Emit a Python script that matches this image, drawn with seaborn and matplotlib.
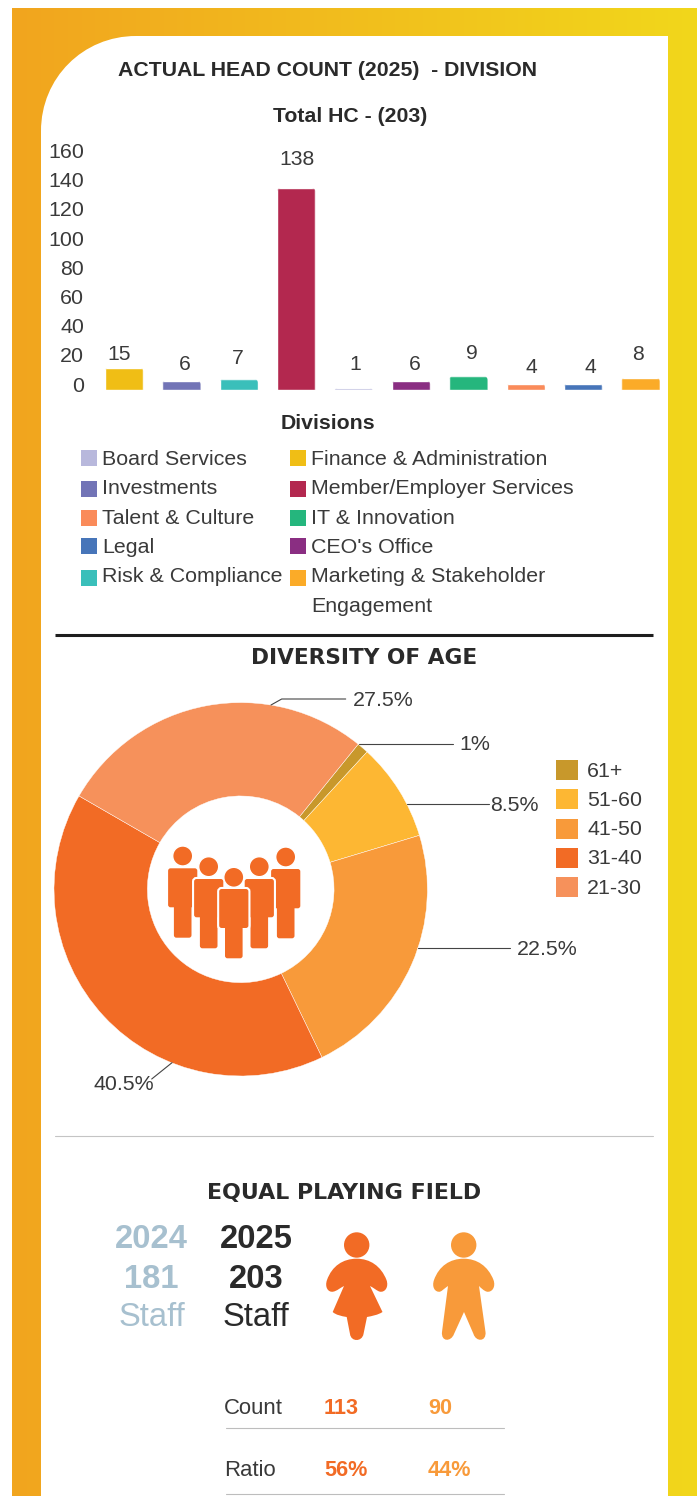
import numpy as np
import pandas as pd
import matplotlib
matplotlib.use("Agg")
import matplotlib.pyplot as plt
import seaborn as sns
from matplotlib.colors import LinearSegmentedColormap
from matplotlib.patches import Circle, FancyBboxPatch, PathPatch, Rectangle
from matplotlib.path import Path
from matplotlib.transforms import ScaledTranslation

# Head count by division, in the order the bars run
BAR_DIVISIONS = ["Finance & Administration", "Investments", "Risk & Compliance",
                 "Member/Employer Services", "Board Services", "CEO's Office",
                 "IT & Innovation", "Talent & Culture", "Legal",
                 "Marketing & Stakeholder Engagement"]
BAR_COUNTS = [15, 6, 7, 138, 1, 6, 9, 4, 4, 8]
BAR_COLORS = ["#F0BE15", "#7274B6", "#3ABFBA", "#B3284F", "#B8B8DC",
              "#8A2E82", "#25B67D", "#FA8B5A", "#4775B9", "#FBAB28"]
Y_TICKS = [0, 20, 40, 60, 80, 100, 120, 140, 160]

# Division legend, column by column
LEGEND_LEFT = ["Board Services", "Investments", "Talent & Culture", "Legal", "Risk & Compliance"]
LEGEND_RIGHT = ["Finance & Administration", "Member/Employer Services", "IT & Innovation",
                "CEO's Office", "Marketing & Stakeholder Engagement"]

# Age mix, clockwise from the 61+ slice
AGE_GROUPS = ["61+", "51-60", "41-50", "31-40", "21-30"]
AGE_SHARES = [1, 8.5, 22.5, 40.5, 27.5]
AGE_COLORS = ["#C8982B", "#FDB733", "#F89A3A", "#F26B25", "#F6915B"]

# Staffing summary
STAFF_YEARS = ["2024", "2025"]
STAFF_TOTALS = [181, 203]
TABLE_ROWS = ["Count", "Ratio"]
WOMEN_CELLS = ["113", "56%"]
MEN_CELLS = ["90", "44%"]

WIDTH, HEIGHT = 697, 1496
FONT = "Liberation Sans"
INK = "#2A2A2A"
BODY = "#3A3A3A"
ORANGE = "#F26B25"
LIGHT_ORANGE = "#F89A3A"
MUTED = "#A7C0CF"

sns.set_theme(style="white")
plt.rcParams["font.family"] = [FONT, "DejaVu Sans"]

fig = plt.figure(figsize=(WIDTH / 100, HEIGHT / 100), dpi=100, facecolor="white")


def axes_from_pixels(left, top, right, bottom, **kwargs):
    """Add axes placed by pixel edges measured from the top-left corner."""
    return fig.add_axes([left / WIDTH, 1 - bottom / HEIGHT,
                         (right - left) / WIDTH, (bottom - top) / HEIGHT], **kwargs)


# Backdrop: gradient frame with a white card cut into it
bg = axes_from_pixels(0, 0, WIDTH, HEIGHT, zorder=0)
bg.axis("off")
frame_cmap = LinearSegmentedColormap.from_list("frame", ["#F2A51F", "#F1D71B"])
bg.imshow(np.linspace(0, 1, 256)[None, :], extent=(12, WIDTH, HEIGHT, 8),
          cmap=frame_cmap, aspect="auto", zorder=0)
bg.set_xlim(0, WIDTH)
bg.set_ylim(HEIGHT, 0)
card = Path([(41, HEIGHT), (41, 131), (41, 78), (83, 36), (136, 36), (668, 36), (668, HEIGHT), (41, HEIGHT)],
            [Path.MOVETO, Path.LINETO, Path.CURVE4, Path.CURVE4, Path.CURVE4,
             Path.LINETO, Path.LINETO, Path.CLOSEPOLY])
bg.add_patch(PathPatch(card, facecolor="white", edgecolor="none", zorder=1))

# Bar chart of head count
PX_PER_UNIT = 1.46
ax = axes_from_pixels(95.3, 389.5 - 160 * PX_PER_UNIT, 669.3, 389.5, zorder=2)
ax.patch.set_visible(False)
frame = pd.DataFrame({"division": BAR_DIVISIONS, "head_count": BAR_COUNTS})
sns.barplot(data=frame, x="division", y="head_count", hue="division", order=BAR_DIVISIONS,
            hue_order=BAR_DIVISIONS, palette=BAR_COLORS, saturation=1, width=0.67,
            legend=False, ax=ax)
ax.set_ylim(0, 160)
ax.set_xlim(-0.5, len(BAR_DIVISIONS) - 0.5)
ax.set_xlabel("")
ax.set_ylabel("")
ax.set_xticks([])
ax.set_yticks(Y_TICKS)
ax.tick_params(axis="y", length=0, pad=8, labelsize=15.4, labelcolor=BODY)
sns.despine(ax=ax, left=True, bottom=True)
ax.grid(False)
tick_shift = ScaledTranslation(0, 5.5 / 100, fig.dpi_scale_trans)
for tick_label in ax.get_yticklabels():
    tick_label.set_transform(tick_label.get_transform() + tick_shift)

# Value labels sit at slightly uneven distances from their bars
label_nudges = [(-5, 13.6), (3.6, 16.7), (-1, 21), (1, 29), (1.4, 24),
                (4, 16.7), (3.6, 22.4), (5.2, 15.7), (6.8, 15.7), (-2.6, 23.8)]
x_px = 57.4
corner = 4.0
bars = [bar for container in ax.containers for bar in container if bar.get_height() > 0]
for bar, value, nudge in zip(bars, BAR_COUNTS, label_nudges):
    # Round only the top corners: the clip shape runs on below the baseline
    rounded = FancyBboxPatch((bar.get_x(), -10), bar.get_width(), bar.get_height() + 10,
                             boxstyle=f"round,pad=0,rounding_size={corner / x_px}",
                             mutation_aspect=x_px / PX_PER_UNIT, transform=ax.transData)
    bar.set_clip_path(rounded)
    ax.annotate(str(value), xy=(bar.get_x() + bar.get_width() / 2, bar.get_height()),
                xytext=nudge, textcoords="offset pixels", ha="center", va="center",
                fontsize=15.2, color=BODY, annotation_clip=False)

# Donut of the age mix
CX, CY, RADIUS = 240.7, 889.3, 186.7
donut = axes_from_pixels(CX - RADIUS, CY - RADIUS, CX + RADIUS, CY + RADIUS, zorder=2)
donut.pie(AGE_SHARES, colors=AGE_COLORS, startangle=90 - 39, counterclock=False, radius=1,
          wedgeprops={"width": 0.5, "edgecolor": "white", "linewidth": 0.3})
donut.set_xlim(-1, 1)
donut.set_ylim(-1, 1)

# Overlay in pixel coordinates for headings, legends, leaders and icons
px = axes_from_pixels(0, 0, WIDTH, HEIGHT, zorder=3)
px.set_xlim(0, WIDTH)
px.set_ylim(HEIGHT, 0)
px.axis("off")


def label(x, y, text, size=15.4, color=BODY, weight="normal", ha="left", **kwargs):
    return px.text(x, y + 1, text, fontsize=size, color=color, fontweight=weight,
                   ha=ha, va="center", **kwargs)


label(327.5, 69, "ACTUAL HEAD COUNT (2025)  - DIVISION", size=15.3, color=INK, weight="bold", ha="center")
label(350, 115, "Total HC - (203)", size=15.3, color=INK, weight="bold", ha="center")
label(327.5, 422, "Divisions", size=15.3, color=INK, weight="bold", ha="center")

# Division legend
color_of = dict(zip(BAR_DIVISIONS, BAR_COLORS))
text_rows = [458, 487.5, 517, 546, 575.5]
box_rows = [458, 489, 517.5, 546, 577.5]
for names, box_x, text_x in ((LEGEND_LEFT, 81, 102), (LEGEND_RIGHT, 290, 311)):
    for name, y, box_y in zip(names, text_rows, box_rows):
        px.add_patch(Rectangle((box_x, box_y - 8), 16, 16, facecolor=color_of[name], edgecolor="none"))
        if name.startswith("Marketing"):
            head, tail = "Marketing & Stakeholder", "Engagement"
            label(text_x, y, head)
            label(text_x, y + 29.5, tail)
        else:
            label(text_x, y, name)

px.plot([55, 653], [635, 635], color="#1E1E1E", lw=2.2, solid_capstyle="butt")
label(364.5, 657, "DIVERSITY OF AGE", size=15.6, color=INK, weight="bold", ha="center", family="DejaVu Sans")

# Leader lines and share labels around the donut
leaders = [
    ([271, 281.7, 345.7], [705, 699, 699], 353, 699.5),
    ([359.3, 453], [743.5, 743.5], 459, 743.5),
    ([406.7, 489], [804, 804], 490, 804.5),
    ([418, 510], [947.7, 947.7], 517, 948.5),
    ([172, 151.7], [1062.7, 1079], 94, 1083.5),
]
share_order = [4, 0, 1, 2, 3]
for (xs, ys, tx, ty), idx in zip(leaders, share_order):
    px.plot(xs, ys, color="#444444", lw=0.8)
    label(tx, ty, f"{AGE_SHARES[idx]:g}%")

# Age legend
for i, (group, color) in enumerate(zip(AGE_GROUPS, AGE_COLORS)):
    y = 770 + i * 29.25
    px.add_patch(Rectangle((556, y - 10), 22, 20, facecolor=color, edgecolor="none"))
    label(587, y, group)


def person(cx, top, waist, foot, head_y):
    """Draw one figure of the group icon with a white halo to separate overlaps."""
    parts = [
        ((cx - 14.6, top), 29.2, waist - top),
        ((cx - 8.8, waist - 5), 17.6, foot - waist + 5),
    ]
    for edge, lw in (("white", 3.0), (ORANGE, 0.0)):
        for xy, w, h in parts:
            px.add_patch(FancyBboxPatch(
                xy, w, h, boxstyle="round,pad=0,rounding_size=2.5",
                facecolor=ORANGE, edgecolor=edge, linewidth=lw))
    px.add_patch(Circle((cx, head_y), 10, facecolor=ORANGE, edgecolor="white", linewidth=1.0))


person(182.7, 868.3, 907.3, 937.7, 856)
person(285.7, 869, 908.3, 938.3, 857)
person(208.7, 879, 917.3, 948.3, 866.7)
person(259.3, 879, 917.3, 948.3, 866.7)
person(233.8, 889, 928, 958.3, 877.3)

# Thin divider and staffing section
px.plot([55, 653], [1135.5, 1135.5], color="#C4C4C4", lw=0.8)
label(344, 1192, "EQUAL PLAYING FIELD", size=15.9, color=INK, weight="bold", ha="center", family="DejaVu Sans")

for year, total, x, color in zip(STAFF_YEARS, STAFF_TOTALS, (151.5, 256), (MUTED, INK)):
    label(x, 1238, year, size=23.6, color=color, weight="bold", ha="center")
    label(x, 1278, str(total), size=23.6, color=color, weight="bold", ha="center")
    label(x, 1317, "Staff", size=23.6, color=color, ha="center")

# Female and male icons
C4, L2 = Path.CURVE4, Path.LINETO
woman = [
    (Path.MOVETO, [(356.7, 1258.7)]),
    (C4, [(370, 1258.7), (381, 1266), (386.5, 1280)]),
    (C4, [(389, 1287), (385, 1292.5), (380, 1291.7)]),
    (C4, [(377, 1291), (374, 1288), (370, 1286)]),
    (L2, [(382.5, 1312)]),
    (C4, [(378, 1315), (372, 1316), (367, 1317)]),
    (L2, [(363.5, 1334)]),
    (C4, [(362, 1342), (351, 1342), (350, 1334)]),
    (L2, [(346.7, 1317)]),
    (C4, [(341, 1316), (336, 1315), (332.7, 1312)]),
    (L2, [(344, 1286)]),
    (C4, [(340, 1288), (337, 1291), (333, 1291.7)]),
    (C4, [(328, 1292.5), (324.5, 1287), (327, 1280)]),
    (C4, [(332, 1266), (343, 1258.7), (356.7, 1258.7)]),
]
man = [
    (Path.MOVETO, [(463.7, 1258.7)]),
    (C4, [(477, 1258.7), (488, 1266), (493.5, 1280)]),
    (C4, [(496, 1287), (492, 1292.5), (487, 1291.7)]),
    (C4, [(484, 1291), (481, 1288), (479, 1286)]),
    (L2, [(485.5, 1332)]),
    (C4, [(486.5, 1342), (476, 1342), (473.5, 1334)]),
    (L2, [(464, 1312)]),
    (L2, [(454, 1334)]),
    (C4, [(451, 1342), (441, 1342), (442, 1332)]),
    (L2, [(448, 1286)]),
    (C4, [(445, 1288), (442, 1291), (440, 1291.7)]),
    (C4, [(435, 1292.5), (431.5, 1287), (434, 1280)]),
    (C4, [(439, 1266), (450, 1258.7), (463.7, 1258.7)]),
]


def outline(segments):
    verts, codes = [], []
    for code, pts in segments:
        verts += pts
        codes += [code] * len(pts)
    return Path(verts, codes)


px.add_patch(PathPatch(outline(woman), facecolor=ORANGE, edgecolor="none"))
px.add_patch(Circle((356.7, 1245), 12.7, facecolor=ORANGE, edgecolor="none"))
px.add_patch(PathPatch(outline(man), facecolor=LIGHT_ORANGE, edgecolor="none"))
px.add_patch(Circle((463.7, 1245), 12.7, facecolor=LIGHT_ORANGE, edgecolor="none"))

# Count and ratio table
for name, women, men, y, rule_y in zip(TABLE_ROWS, WOMEN_CELLS, MEN_CELLS, (1407, 1469), (1428, 1494)):
    label(224, y, name, size=15.9)
    label(324, y, women, size=15.6, color=ORANGE, weight="bold")
    label(428, y, men, size=15.6, color=LIGHT_ORANGE, weight="bold")
    px.plot([226, 504], [rule_y, rule_y], color="#BDBDBD", lw=0.8)

fig.savefig("out.png", dpi=100)
